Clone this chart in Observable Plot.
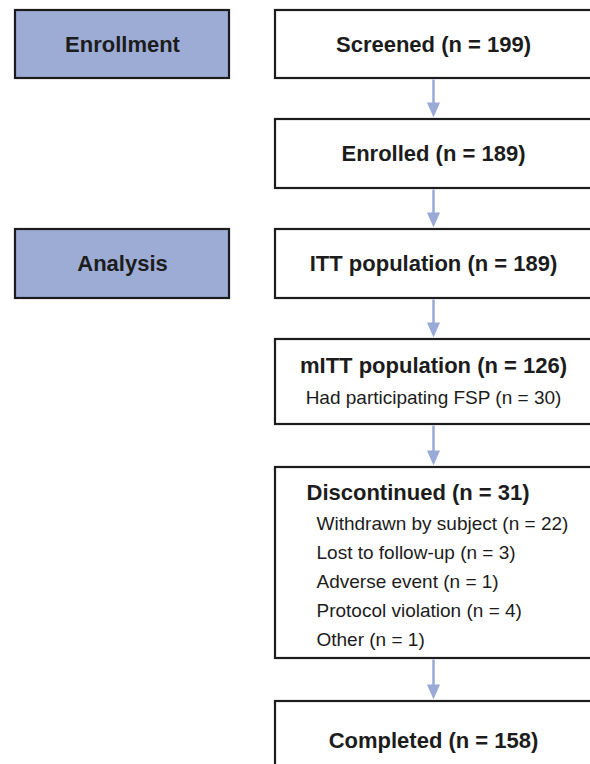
<!DOCTYPE html>
<html>
<head>
<meta charset="utf-8">
<script src="https://cdn.jsdelivr.net/npm/d3@7"></script>
<script src="https://cdn.jsdelivr.net/npm/@observablehq/plot@0.6"></script>
<style>
  html, body { margin: 0; padding: 0; background: #ffffff; }
  #chart { width: 590px; height: 764px; overflow: hidden; }
</style>
</head>
<body>
<div id="chart"></div>
<script>
// ---- data ----
const stages = ["Screened", "Enrolled", "ITT population", "mITT population", "Discontinued", "Completed"];
const stageN = [199, 189, 189, 126, 31, 158];
const phases = ["Enrollment", "Analysis"];
const phaseStage = [0, 2];            // stage row each phase label sits beside
const mittNotes = ["Had participating FSP"];
const mittNoteN = [30];
const discReasons = ["Withdrawn by subject", "Lost to follow-up", "Adverse event", "Protocol violation", "Other"];
const discReasonN = [22, 3, 1, 4, 1];

// ---- layout (pixel units of the flow diagram) ----
const W = 590, H = 764;
const boxTop = [10, 119, 229, 339, 467, 701];
const boxBottom = [78, 188, 298, 424, 658, 792];
const mainX1 = 275, mainX2 = 596, mainCx = 433;
const phaseX1 = 15, phaseX2 = 229;

const dark = "#1c1c1c";
const blue = "#9dacd5";
const arrowBlue = "#9aaad7";
const font = "Liberation Sans, Arial, Helvetica, sans-serif";

const boxes = stages.map((s, i) => ({label: s, n: stageN[i], y1: boxTop[i], y2: boxBottom[i], i}));
const phaseBoxes = phases.map((p, j) => ({label: p, y1: boxTop[phaseStage[j]], y2: boxBottom[phaseStage[j]]}));
const links = boxes.slice(0, -1).map((b, i) => ({y1: b.y2 + 1, y2: boxTop[i + 1] - 2}));

// titles
const titles = boxes.map(b => {
  let y = (b.y1 + b.y2) / 2, x = mainCx, anchor = "middle";
  if (b.label === "mITT population") y = b.y1 + 26;
  if (b.label === "Discontinued") { y = b.y1 + 25; x = 306; anchor = "start"; }
  if (b.label === "Completed") y = 740;
  return {text: `${b.label} (n = ${b.n})`, x, y, anchor};
});
const subs = [];
mittNotes.forEach((t, k) => subs.push({text: `${t} (n = ${mittNoteN[k]})`, x: mainCx, y: boxTop[3] + 58 + 29 * k, anchor: "middle"}));
discReasons.forEach((t, k) => subs.push({text: `${t} (n = ${discReasonN[k]})`, x: 316, y: boxTop[4] + 56 + 29 * k, anchor: "start"}));

const arrowHead = {
  draw(ctx) {
    ctx.moveTo(0, 0);
    ctx.lineTo(-6.5, -15);
    ctx.lineTo(6.5, -15);
    ctx.closePath();
  }
};

const chart = Plot.plot({
  width: W,
  height: H,
  margin: 0,
  x: {domain: [0, W], range: [0, W], axis: null},
  y: {domain: [0, H], range: [0, H], axis: null},
  style: {fontFamily: font, background: "white"},
  marks: [
    Plot.rect(phaseBoxes, {x1: phaseX1, x2: phaseX2, y1: "y1", y2: "y2", fill: blue, stroke: dark, strokeWidth: 2.2}),
    Plot.rect(boxes, {x1: mainX1, x2: mainX2, y1: "y1", y2: "y2", fill: "white", stroke: dark, strokeWidth: 2.2}),
    Plot.link(links, {x1: mainCx, x2: mainCx, y1: "y1", y2: d => d.y2 - 8, stroke: arrowBlue, strokeWidth: 2.5}),
    Plot.dot(links, {x: mainCx, y: "y2", symbol: arrowHead, fill: arrowBlue, stroke: "none", r: 1}),
    Plot.text(phaseBoxes, {x: (phaseX1 + phaseX2) / 2, y: d => (d.y1 + d.y2) / 2, text: "label", fontSize: 22, fontWeight: "bold", fill: dark}),
    Plot.text(titles.filter(d => d.anchor === "middle"), {x: "x", y: "y", text: "text", textAnchor: "middle", fontSize: 22, fontWeight: "bold", fill: dark}),
    Plot.text(titles.filter(d => d.anchor === "start"), {x: "x", y: "y", text: "text", textAnchor: "start", fontSize: 22, fontWeight: "bold", fill: dark}),
    Plot.text(subs.filter(d => d.anchor === "middle"), {x: "x", y: "y", text: "text", textAnchor: "middle", fontSize: 19, fill: dark}),
    Plot.text(subs.filter(d => d.anchor === "start"), {x: "x", y: "y", text: "text", textAnchor: "start", fontSize: 19, fill: dark})
  ]
});
document.getElementById("chart").appendChild(chart);
</script>
</body>
</html>
